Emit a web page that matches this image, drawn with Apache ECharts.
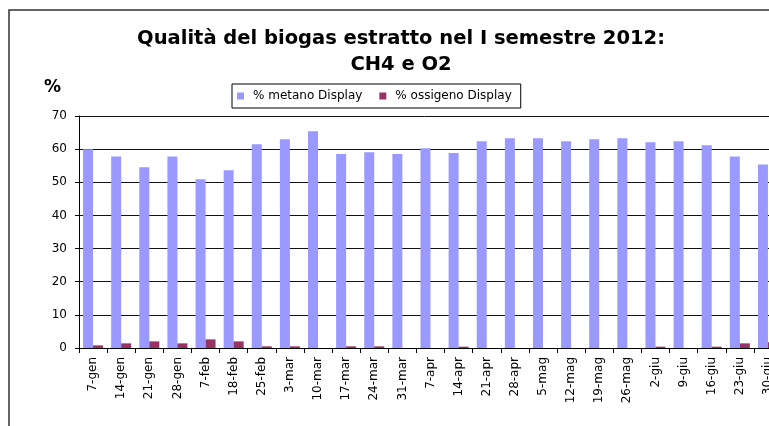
<!DOCTYPE html>
<html>
<head>
<meta charset="utf-8">
<script src="https://cdn.jsdelivr.net/npm/echarts@6/dist/echarts.min.js"></script>
<style>
  html, body { margin: 0; padding: 0; background: #fff; }
  #chart { width: 769px; height: 426px; }
</style>
</head>
<body>
<div id="chart"></div>
<script>
// settimane rilevate
const categories = ['7-gen', '14-gen', '21-gen', '28-gen', '7-feb', '18-feb', '25-feb', '3-mar', '10-mar',
  '17-mar', '24-mar', '31-mar', '7-apr', '14-apr', '21-apr', '28-apr', '5-mag', '12-mag', '19-mag',
  '26-mag', '2-giu', '9-giu', '16-giu', '23-giu', '30-giu'];
const metano = [60.0, 57.8, 54.5, 57.8, 50.9, 53.6, 61.5, 63.0, 65.4, 58.5, 59.1, 58.5, 60.3,
  58.8, 62.4, 63.3, 63.3, 62.4, 63.0, 63.3, 62.1, 62.4, 61.2, 57.8, 55.4];
const ossigeno = [0.8, 1.4, 2.0, 1.4, 2.6, 2.0, 0.5, 0.5, 0, 0.5, 0.5, 0, 0,
  0.4, 0, 0, 0, 0, 0, 0, 0.4, 0, 0.4, 1.4, 1.7];
const yTicks = { min: 0, max: 70, interval: 10 };

const chart = echarts.init(document.getElementById('chart'));
const font = 'DejaVu Sans';

chart.setOption({
  animation: false,
  title: {
    text: 'Qualità del biogas estratto nel I semestre 2012:\nCH4 e O2',
    left: 396,
    top: 21,
    textAlign: 'center',
    textStyle: {
      fontFamily: font,
      fontWeight: 'bold',
      fontSize: 19.5,
      lineHeight: 26,
      color: '#000'
    }
  },
  graphic: [
    {
      type: 'rect',
      shape: { x: 9, y: 10, width: 800, height: 500 },
      style: { fill: null, stroke: '#333', lineWidth: 1.5 },
      silent: true
    },
    {
      type: 'text',
      left: 44,
      top: 79,
      style: { text: '%', fontFamily: font, fontWeight: 'bold', fontSize: 17, fill: '#000' }
    }
  ],
  legend: {
    left: 232,
    top: 84,
    orient: 'horizontal',
    borderColor: '#000',
    borderWidth: 1,
    padding: [6, 9, 6, 5],
    itemWidth: 7,
    itemHeight: 7,
    itemGap: 17,
    icon: 'rect',
    textStyle: { fontFamily: font, fontSize: 12, color: '#000', padding: [0, 0, 0, 4] },
    data: ['% metano Display', '% ossigeno Display']
  },
  grid: {
    left: 79,
    top: 116,
    width: 703,
    height: 232,
    containLabel: false,
    outerBoundsMode: 'none'
  },
  xAxis: {
    type: 'category',
    data: categories,
    axisLine: { lineStyle: { color: '#000', width: 1 } },
    axisTick: { show: true, length: 5, lineStyle: { color: '#000' } },
    axisLabel: {
      rotate: 90,
      interval: 0,
      margin: 9,
      fontFamily: font,
      fontSize: 12,
      color: '#000'
    },
    splitLine: { show: false }
  },
  yAxis: {
    type: 'value',
    min: yTicks.min,
    max: yTicks.max,
    interval: yTicks.interval,
    axisLine: { show: true, lineStyle: { color: '#000', width: 1 } },
    axisTick: { show: true, length: 4, lineStyle: { color: '#000' } },
    axisLabel: { margin: 12, fontFamily: font, fontSize: 12, color: '#000' },
    splitLine: { show: true, lineStyle: { color: '#111', width: 1 } }
  },
  series: [
    {
      name: '% metano Display',
      type: 'bar',
      data: metano,
      barWidth: 10,
      barGap: '0%',
      itemStyle: { color: '#9999ff' }
    },
    {
      name: '% ossigeno Display',
      type: 'bar',
      data: ossigeno,
      barWidth: 10,
      barGap: '0%',
      itemStyle: { color: '#993366' }
    }
  ]
});
</script>
</body>
</html>
